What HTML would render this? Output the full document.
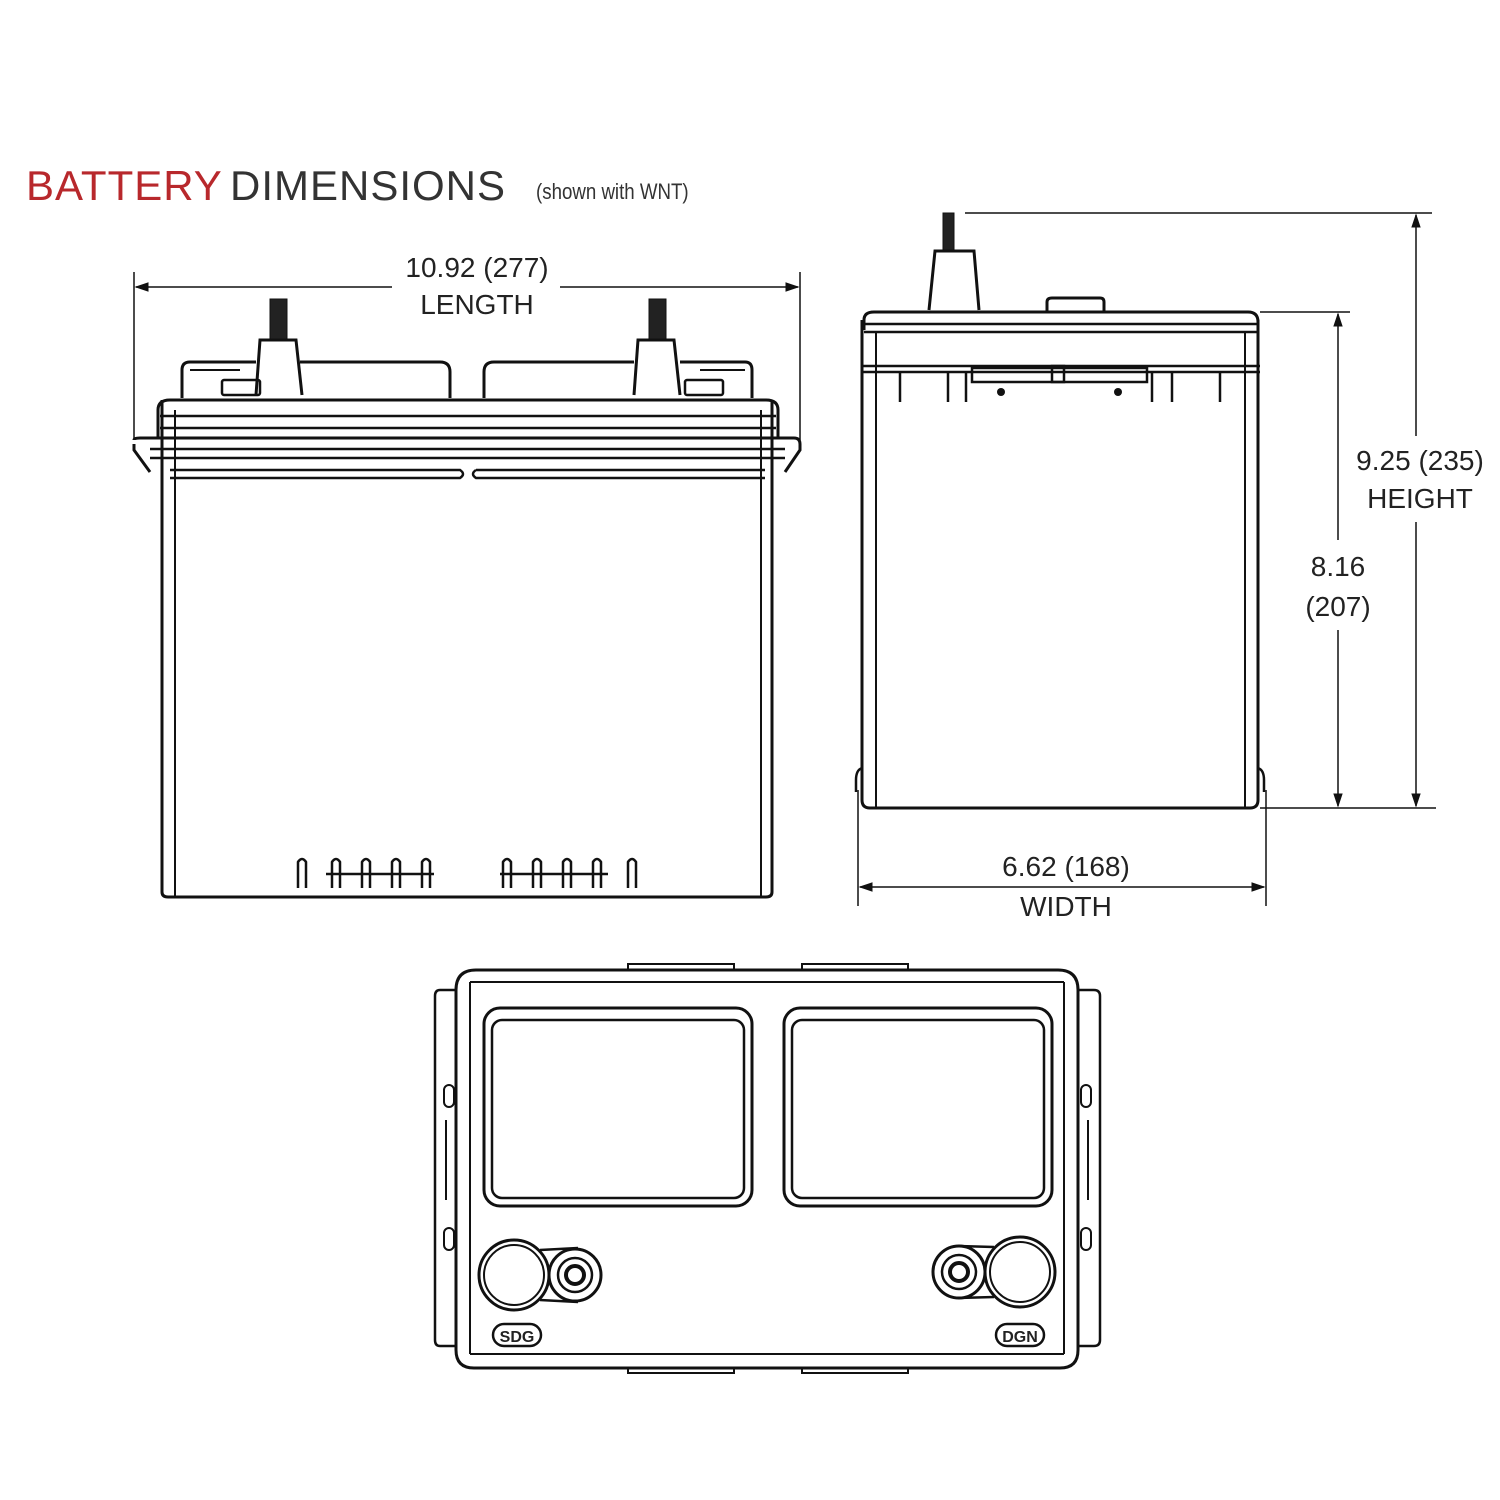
<!DOCTYPE html>
<html><head><meta charset="utf-8"><style>
html,body{margin:0;padding:0;background:#fff;}
svg{display:block}
text{font-family:"Liberation Sans",sans-serif;fill:#222}
</style></head><body>
<svg width="1500" height="1500" viewBox="0 0 1500 1500" xmlns="http://www.w3.org/2000/svg">
<rect width="1500" height="1500" fill="#fff"/>
<!-- Title -->
<text x="26" y="200" font-size="42" style="fill:#b8282c;letter-spacing:1px">BATTERY</text>
<text x="230" y="200" font-size="42" style="fill:#333;letter-spacing:1px">DIMENSIONS</text>
<text x="536" y="199" font-size="22" transform="scale(0.85,1)" transform-origin="536 199" style="fill:#333">(shown with WNT)</text>

<g fill="none" stroke="#111" stroke-width="3">
<!-- FRONT VIEW -->
<line x1="134" y1="272" x2="134" y2="440" stroke-width="1.5"/>
<line x1="800" y1="272" x2="800" y2="440" stroke-width="1.5"/>
<line x1="136" y1="287" x2="392" y2="287" stroke-width="1.5"/>
<line x1="560" y1="287" x2="798" y2="287" stroke-width="1.5"/>
<path d="M136 287 l12 -4 v8 z M798 287 l-12 -4 v8 z" fill="#111" stroke-width="1"/>
<!-- terminals -->
<rect x="270" y="299" width="17" height="42" fill="#222" stroke-width="1"/>
<path d="M256 395 L260 340 L296 340 L302 395"/>
<rect x="649" y="299" width="17" height="42" fill="#222" stroke-width="1"/>
<path d="M634 395 L638 340 L674 340 L680 395"/>
<!-- vent caps -->
<path d="M182 398 V370 Q182 362 190 362 H256 M300 362 H440 Q450 362 450 372 V398"/>
<path d="M484 398 V372 Q484 362 494 362 H634 M680 362 H745 Q752 362 752 370 V398"/>
<rect x="222" y="380" width="38" height="15" rx="2" stroke-width="2.5"/>
<rect x="685" y="380" width="38" height="15" rx="2" stroke-width="2.5"/>
<line x1="190" y1="370" x2="240" y2="370" stroke-width="2"/>
<line x1="700" y1="370" x2="745" y2="370" stroke-width="2"/>
<!-- lid -->
<path d="M158 438 V410 Q158 400 170 400 H766 Q778 400 778 410 V438"/>
<line x1="160" y1="416" x2="776" y2="416" stroke-width="2.5"/>
<line x1="160" y1="428" x2="776" y2="428" stroke-width="2.5"/>
<path d="M134 440 Q134 438 140 438 H794 Q800 438 800 444 V450 L785 472 M134 444 V450 L150 472"/>
<line x1="150" y1="449" x2="785" y2="449" stroke-width="2.5"/>
<line x1="150" y1="458" x2="785" y2="458" stroke-width="2.5"/>
<path d="M170 470 H460 Q466 474 460 478 H170" stroke-width="2.5"/>
<path d="M476 470 H765 M765 478 H476 Q470 474 476 470" stroke-width="2.5"/>
<!-- body -->
<path d="M162 400 V892 Q162 897 168 897 H766 Q772 897 772 892 V400"/>
<line x1="175" y1="410" x2="175" y2="897" stroke-width="2"/>
<line x1="761" y1="410" x2="761" y2="897" stroke-width="2"/>
<!-- feet -->
<g stroke-width="2.5">
<path d="M298 888 V862 Q302 856 306 862 V888"/>
<path d="M332 888 V862 Q336 856 340 862 V888"/>
<path d="M362 888 V862 Q366 856 370 862 V888"/>
<path d="M392 888 V862 Q396 856 400 862 V888"/>
<path d="M422 888 V862 Q426 856 430 862 V888"/>
<path d="M503 888 V862 Q507 856 511 862 V888"/>
<path d="M533 888 V862 Q537 856 541 862 V888"/>
<path d="M563 888 V862 Q567 856 571 862 V888"/>
<path d="M593 888 V862 Q597 856 601 862 V888"/>
<path d="M628 888 V862 Q632 856 636 862 V888"/>
<line x1="326" y1="874" x2="434" y2="874"/>
<line x1="500" y1="874" x2="608" y2="874"/>
</g>

<!-- SIDE VIEW -->
<line x1="965" y1="213" x2="1432" y2="213" stroke-width="1.5"/>
<line x1="1416" y1="215" x2="1416" y2="436" stroke-width="1.5"/>
<line x1="1416" y1="522" x2="1416" y2="806" stroke-width="1.5"/>
<path d="M1416 215 l-4 12 h8 z M1416 806 l-4 -12 h8 z" fill="#111" stroke-width="1"/>
<line x1="1260" y1="312" x2="1350" y2="312" stroke-width="1.5"/>
<line x1="1338" y1="314" x2="1338" y2="540" stroke-width="1.5"/>
<line x1="1338" y1="630" x2="1338" y2="806" stroke-width="1.5"/>
<path d="M1338 314 l-4 12 h8 z M1338 806 l-4 -12 h8 z" fill="#111" stroke-width="1"/>
<line x1="1260" y1="808" x2="1436" y2="808" stroke-width="1.5"/>
<rect x="943" y="213" width="11" height="38" fill="#222" stroke-width="1"/>
<path d="M929 310 L935 251 L974 251 L979 310"/>
<path d="M1047 312 V302 Q1047 298 1052 298 H1100 Q1104 298 1104 302 V312"/>
<path d="M864 330 V320 Q864 312 874 312 H1248 Q1258 312 1258 322 V330"/>
<line x1="864" y1="324" x2="1258" y2="324" stroke-width="2.5"/>
<line x1="864" y1="332" x2="1258" y2="332" stroke-width="2.5"/>
<line x1="862" y1="366" x2="1260" y2="366" stroke-width="2.5"/>
<line x1="862" y1="372" x2="1260" y2="372" stroke-width="2.5"/>
<path d="M862 320 V800 Q862 808 870 808 H1250 Q1258 808 1258 800 V320"/>
<line x1="876" y1="332" x2="876" y2="808" stroke-width="2"/>
<line x1="1245" y1="332" x2="1245" y2="808" stroke-width="2"/>
<g stroke-width="2.5">
<line x1="900" y1="372" x2="900" y2="402"/>
<line x1="948" y1="372" x2="948" y2="402"/>
<line x1="966" y1="372" x2="966" y2="402"/>
<line x1="1152" y1="372" x2="1152" y2="402"/>
<line x1="1172" y1="372" x2="1172" y2="402"/>
<line x1="1220" y1="372" x2="1220" y2="402"/>
<rect x="972" y="368" width="175" height="14"/>
<rect x="1052" y="366" width="12" height="16"/>
</g>
<circle cx="1001" cy="392" r="4" fill="#111" stroke="none"/>
<circle cx="1118" cy="392" r="4" fill="#111" stroke="none"/>
<path d="M862 768 Q856 770 856 780 V792 M1258 768 Q1264 770 1264 780 V792" stroke-width="2.5"/>
<!-- width dim -->
<line x1="858" y1="790" x2="858" y2="906" stroke-width="1.5"/>
<line x1="1266" y1="790" x2="1266" y2="906" stroke-width="1.5"/>
<line x1="860" y1="887" x2="1264" y2="887" stroke-width="1.5"/>
<path d="M860 887 l12 -4 v8 z M1264 887 l-12 -4 v8 z" fill="#111" stroke-width="1"/>

<!-- TOP VIEW -->
<path d="M456 990 Q456 970 476 970 H1058 Q1078 970 1078 990 V1350 Q1078 1368 1060 1368 H474 Q456 1368 456 1350 Z"/>
<line x1="470" y1="982" x2="1064" y2="982" stroke-width="2"/>
<line x1="470" y1="1354" x2="1064" y2="1354" stroke-width="2"/>
<line x1="470" y1="982" x2="470" y2="1354" stroke-width="2"/>
<line x1="1064" y1="982" x2="1064" y2="1354" stroke-width="2"/>
<path d="M456 990 H440 Q435 990 435 996 V1340 Q435 1346 440 1346 H456" stroke-width="2.5"/>
<path d="M1078 990 H1094 Q1100 990 1100 996 V1340 Q1100 1346 1094 1346 H1078" stroke-width="2.5"/>
<g stroke-width="2">
<rect x="444" y="1085" width="10" height="22" rx="5"/>
<rect x="444" y="1228" width="10" height="22" rx="5"/>
<rect x="1081" y="1085" width="10" height="22" rx="5"/>
<rect x="1081" y="1228" width="10" height="22" rx="5"/>
<line x1="446" y1="1120" x2="446" y2="1200"/>
<line x1="1088" y1="1120" x2="1088" y2="1200"/>
</g>
<rect x="628" y="964" width="106" height="6" stroke-width="2"/>
<rect x="802" y="964" width="106" height="6" stroke-width="2"/>
<rect x="628" y="1368" width="106" height="5" stroke-width="2"/>
<rect x="802" y="1368" width="106" height="5" stroke-width="2"/>
<rect x="484" y="1008" width="268" height="198" rx="16"/>
<rect x="492" y="1020" width="252" height="178" rx="10" stroke-width="2.5"/>
<rect x="784" y="1008" width="268" height="198" rx="16"/>
<rect x="792" y="1020" width="252" height="178" rx="10" stroke-width="2.5"/>
<!-- terminals -->
<circle cx="514" cy="1275" r="35"/>
<circle cx="514" cy="1275" r="30" stroke-width="2"/>
<path d="M540 1250 L578 1248 M540 1300 L578 1302" stroke-width="2.5"/>
<circle cx="575" cy="1275" r="26"/>
<circle cx="575" cy="1275" r="17" stroke-width="2.5"/>
<circle cx="575" cy="1275" r="9" stroke-width="4"/>
<circle cx="1020" cy="1272" r="35"/>
<circle cx="1020" cy="1272" r="30" stroke-width="2"/>
<path d="M994 1247 L958 1246 M994 1297 L958 1298" stroke-width="2.5"/>
<circle cx="959" cy="1272" r="26"/>
<circle cx="959" cy="1272" r="17" stroke-width="2.5"/>
<circle cx="959" cy="1272" r="9" stroke-width="4"/>
<rect x="493" y="1324" width="48" height="22" rx="11" stroke-width="2.5"/>
<rect x="996" y="1324" width="48" height="22" rx="11" stroke-width="2.5"/>
</g>
<text x="517" y="1342" font-size="16" text-anchor="middle" font-weight="bold">SDG</text>
<text x="1020" y="1342" font-size="16" text-anchor="middle" font-weight="bold">DGN</text>

<!-- Dimension labels -->
<g font-size="28" text-anchor="middle">
<text x="477" y="277">10.92 (277)</text>
<text x="477" y="314">LENGTH</text>
<text x="1420" y="470">9.25 (235)</text>
<text x="1420" y="508">HEIGHT</text>
<text x="1338" y="576">8.16</text>
<text x="1338" y="616">(207)</text>
<text x="1066" y="876">6.62 (168)</text>
<text x="1066" y="916">WIDTH</text>
</g>
</svg>
</body></html>
